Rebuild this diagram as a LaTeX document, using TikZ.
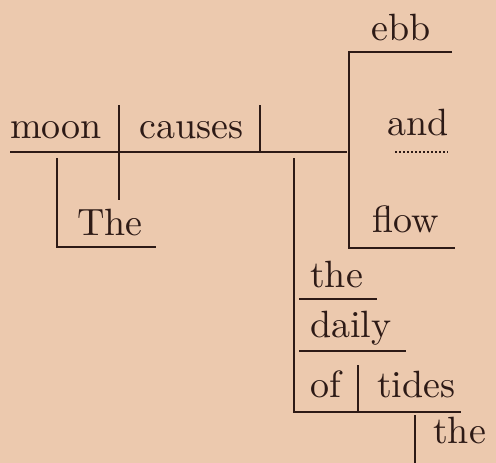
\documentclass[tikz,border=0pt]{standalone}
\usepackage{graphicx}
\definecolor{paper}{RGB}{236,201,174}
\definecolor{ink}{RGB}{45,26,22}
\newcommand{\bigword}[1]{\scalebox{3.8}{#1}}
\begin{document}
\begin{tikzpicture}[x=1pt,y=-1pt,
  word/.style={anchor=base west,inner sep=0pt,text=ink,font=\fontsize{10}{12}\selectfont},
  rule/.style={draw=ink,line width=1.7pt}]
\fill[paper] (0,0) rectangle (496,463);
\useasboundingbox (0,0) rectangle (496,463);

% words
\node[word] (moon)   at (10,138)  {\bigword{moon}};
\node[word] (causes) at (139,138) {\bigword{causes}};
\node[word] (the1)   at (77,235)  {\bigword{The}};
\node[word] (ebb)    at (371,40)  {\bigword{ebb}};
\node[word] (and)    at (387,135) {\bigword{and}};
\node[word] (flow)   at (372,232) {\bigword{flow}};
\node[word] (the2)   at (310,287) {\bigword{the}};
\node[word] (daily)  at (310,337) {\bigword{daily}};
\node[word] (of)     at (310,397) {\bigword{of}};
\node[word] (tides)  at (377,397) {\bigword{tides}};
\node[word] (the3)   at (433,443) {\bigword{the}};

% line points
\coordinate (mainL) at (10,152);
\coordinate (mainR) at (347,152);
\coordinate (subT) at (119,105);
\coordinate (subB) at (119,200);
\coordinate (objT) at (260,105);
\coordinate (objB) at (260,152);
\coordinate (theT) at (57,158);
\coordinate (theC) at (57,247);
\coordinate (theR) at (156,247);
\coordinate (cmpTR) at (452,52);
\coordinate (cmpTL) at (349,52);
\coordinate (cmpBL) at (349,248);
\coordinate (cmpBR) at (455,248);
\coordinate (dotL) at (395,152);
\coordinate (dotR) at (448,152);
\coordinate (modT) at (294,158);
\coordinate (modB) at (294,412);
\coordinate (m1L) at (299,299);
\coordinate (m1R) at (377,299);
\coordinate (m2L) at (299,351);
\coordinate (m2R) at (406,351);
\coordinate (prR) at (461,412);
\coordinate (prdT) at (358,365);
\coordinate (prdB) at (358,412);
\coordinate (ptT) at (415,415);
\coordinate (ptB) at (415,463);

% base line and dividers
\draw[rule] (mainL) -- (mainR);
\draw[rule] (subT) -- (subB);
\draw[rule] (objT) -- (objB);
\draw[rule] (theT) -- (theC) -- (theR);

% compound object
\draw[rule] (cmpTR) -- (cmpTL) -- (cmpBL) -- (cmpBR);
\draw[draw=ink,line width=1.2pt,dash pattern=on 1.5pt off 2.5pt] (dotL) -- (dotR);

% modifiers of the object
\draw[rule] (modT) -- (modB) -- (prR);
\draw[rule] (m1L) -- (m1R);
\draw[rule] (m2L) -- (m2R);
\draw[rule] (prdT) -- (prdB);
\draw[rule] (ptT) -- (ptB);
\end{tikzpicture}
\end{document}
